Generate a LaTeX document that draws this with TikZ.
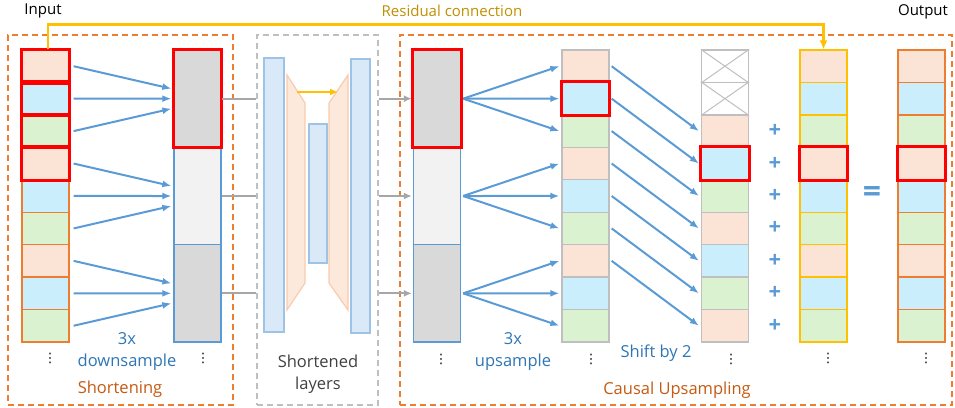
\documentclass[tikz,border=0pt]{standalone}
\usepackage{fontspec}
\setmainfont{Open Sans}
\newfontfamily\symfont{DejaVu Sans}
\usetikzlibrary{arrows.meta, positioning}
\definecolor{peach}{HTML}{FBE3D6}
\definecolor{skyb}{HTML}{CAEEFB}
\definecolor{mint}{HTML}{DAF2D0}
\definecolor{dgray}{HTML}{D9D9D9}
\definecolor{lgray}{HTML}{F2F2F2}
\definecolor{orng}{HTML}{ED7D31}
\definecolor{blu}{HTML}{5B9BD5}
\definecolor{yel}{HTML}{FFC000}
\definecolor{gry}{HTML}{A6A6A6}
\definecolor{gry2}{HTML}{BFBFBF}
\definecolor{gold}{HTML}{BF9000}
\definecolor{bluetxt}{HTML}{2E75B6}
\definecolor{orngtxt}{HTML}{C55A11}
\definecolor{laybl}{HTML}{DAE9F8}
\definecolor{layln}{HTML}{9DC3E6}
\definecolor{trapf}{HTML}{FCE9DC}
\definecolor{trapl}{HTML}{F8CBAD}
\tikzstyle{line} = [draw, blu, line width=2pt, -{Latex[length=9pt,width=7pt]}]
\tikzstyle{gline} = [draw, gry, line width=2pt]
\tikzstyle{cell} = [rectangle, minimum width=47pt, minimum height=32.44pt, inner sep=0pt, line width=1.3pt]
\tikzstyle{blk} = [rectangle, draw=blu, minimum width=47pt, minimum height=97.33pt, inner sep=0pt, line width=1.3pt]
\tikzstyle{redbox} = [draw=red, line width=3pt]
\tikzstyle{frame} = [rectangle, draw=orng, dash pattern=on 6pt off 4pt, line width=1.5pt, inner sep=0pt]
\tikzstyle{lay} = [draw=layln, fill=laybl, line width=1.5pt]
\tikzstyle{trap} = [draw=trapl, fill=trapf, line width=1.2pt]
\tikzstyle{sign} = [text=blu, font=\fontsize{22}{22}\selectfont\bfseries, inner sep=0pt]
\tikzstyle{lbl} = [font=\fontsize{16.5}{22}\selectfont, align=center]
\tikzstyle{more} = [font=\symfont\fontsize{13}{13}\selectfont, inner sep=0pt]

\begin{document}
\begin{tikzpicture}[x=1pt, y=-1pt, font=\fontsize{15}{22}\selectfont]
\useasboundingbox (0,0) rectangle (955,407);
% frames
\node [frame, minimum width=225pt, minimum height=370pt] (shorten) at (120.5,220) {};
\node [frame, draw=gry2, minimum width=121pt, minimum height=370pt] (short) at (317.5,220) {};
\node [frame, minimum width=552pt, minimum height=370pt] (causal) at (676,220) {};

% token columns
\foreach \i/\col in {1/peach,2/skyb,3/mint,4/peach,5/skyb,6/mint,7/peach,8/skyb,9/mint} {
  \node [cell, draw=orng, fill=\col] (in\i) at (45.5,{33.78+32.44*\i}) {};
  \node [cell, draw=gry2, fill=\col] (ups\i) at (585.5,{33.78+32.44*\i}) {};
  \node [cell, draw=yel, fill=\col] (res\i) at (823.5,{33.78+32.44*\i}) {};
  \node [cell, draw=orng, fill=\col] (out\i) at (921.5,{33.78+32.44*\i}) {};
}
\foreach \i/\col in {1/white,2/white,3/peach,4/skyb,5/mint,6/peach,7/skyb,8/mint,9/peach}
  \node [cell, draw=gry2, fill=\col] (sh\i) at (725,{33.78+32.44*\i}) {};
\draw [gry2, line width=1pt] (sh1.north west) -- (sh1.south east) (sh1.south west) -- (sh1.north east);
\draw [gry2, line width=1pt] (sh2.north west) -- (sh2.south east) (sh2.south west) -- (sh2.north east);

% pooled blocks
\foreach \k/\col in {1/dgray,2/lgray,3/dgray} {
  \node [blk, fill=\col] (dn\k) at (197.5,{1.34+97.33*\k}) {};
  \node [blk, fill=\col] (up\k) at (437,{1.34+97.33*\k}) {};
}

% highlighted tokens
\foreach \n in {in1,in2,in3,in4,dn1,up1,ups2,sh4,res4,out4}
  \draw [redbox] (\n.north west) rectangle (\n.south east);

% downsample and upsample
\foreach \k in {1,2,3} {
  \pgfmathtruncatemacro\ta{3*\k-2}
  \pgfmathtruncatemacro\tb{3*\k-1}
  \pgfmathtruncatemacro\tc{3*\k}
  \path [line] ([xshift=4pt]in\ta.east) -- ([xshift=-2pt,yshift=10pt]dn\k.west);
  \path [line] ([xshift=4pt]in\tb.east) -- ([xshift=-2pt]dn\k.west);
  \path [line] ([xshift=4pt]in\tc.east) -- ([xshift=-2pt,yshift=-10pt]dn\k.west);
  \path [line] ([xshift=2pt]up\k.east) -- ([xshift=-2pt]ups\ta.west);
  \path [line] ([xshift=2pt]up\k.east) -- ([xshift=-2pt]ups\tb.west);
  \path [line] ([xshift=2pt]up\k.east) -- ([xshift=-2pt]ups\tc.west);
  \path [gline] (dn\k.east) -- (dn\k.east -| short.west);
  \path [gline, -{Latex[length=8pt,width=7pt]}] (up\k.west -| short.east) -- ([xshift=-1pt]up\k.west);
}

% shift by 2
\foreach \i in {1,...,7} {
  \pgfmathtruncatemacro\j{\i+2}
  \path [line] ([xshift=2pt]ups\i.east) -- ([xshift=-2pt]sh\j.west);
}
\foreach \i in {3,...,9}
  \node [sign] (plus\i) at (775,{33.78+32.44*\i}) {+};
\node [sign, font=\fontsize{32}{32}\selectfont\bfseries] (eq) at (872,194) {=};

% shortened layers
\draw [lay] (264,58) rectangle (284,332);
\draw [trap] (287,75) -- (305,103) -- (305,283) -- (287,310) -- cycle;
\draw [lay] (309,124) rectangle (327,263);
\draw [trap] (348,75) -- (329,103) -- (329,283) -- (348,310) -- cycle;
\draw [lay] (351,59) rectangle (370,333);
\draw [yel, line width=2pt, -{Latex[length=8pt,width=7pt]}] (297,92) -- (338,92);

% residual
\draw [yel, line width=2.5pt, -{Latex[length=9pt,width=8pt]}] ([xshift=2.5pt]in1.north) -- ++(0,-25) -| (res1.north);

% labels
\node (input) at (43,11) {Input};
\node (output) at (923,12) {Output};
\node [text=gold] (reslbl) at (452,11) {Residual connection};
\node [lbl, text=bluetxt] (dslbl) at (127,352) {3x\\downsample};
\node [lbl, text=orngtxt] (shlbl) at (120,389) {Shortening};
\node [lbl, text=black!75] (slbl) at (318,374) {Shortened\\layers};
\node [lbl, text=bluetxt] (uslbl) at (513,352) {3x\\upsample};
\node [lbl, text=bluetxt] (shiftlbl) at (656,353) {Shift by 2};
\node [lbl, text=orngtxt] (cslbl) at (677,390) {Causal Upsampling};

% more tokens
\node [more] (inmore) at (50,358) {⋮};
\node [more] (dnmore) at (203,358) {⋮};
\node [more] (upmore) at (441,359) {⋮};
\node [more] (upsmore) at (591,359) {⋮};
\node [more] (shmore) at (731,359) {⋮};
\node [more] (resmore) at (828,358) {⋮};
\node [more] (outmore) at (926,358) {⋮};
\end{tikzpicture}
\end{document}
